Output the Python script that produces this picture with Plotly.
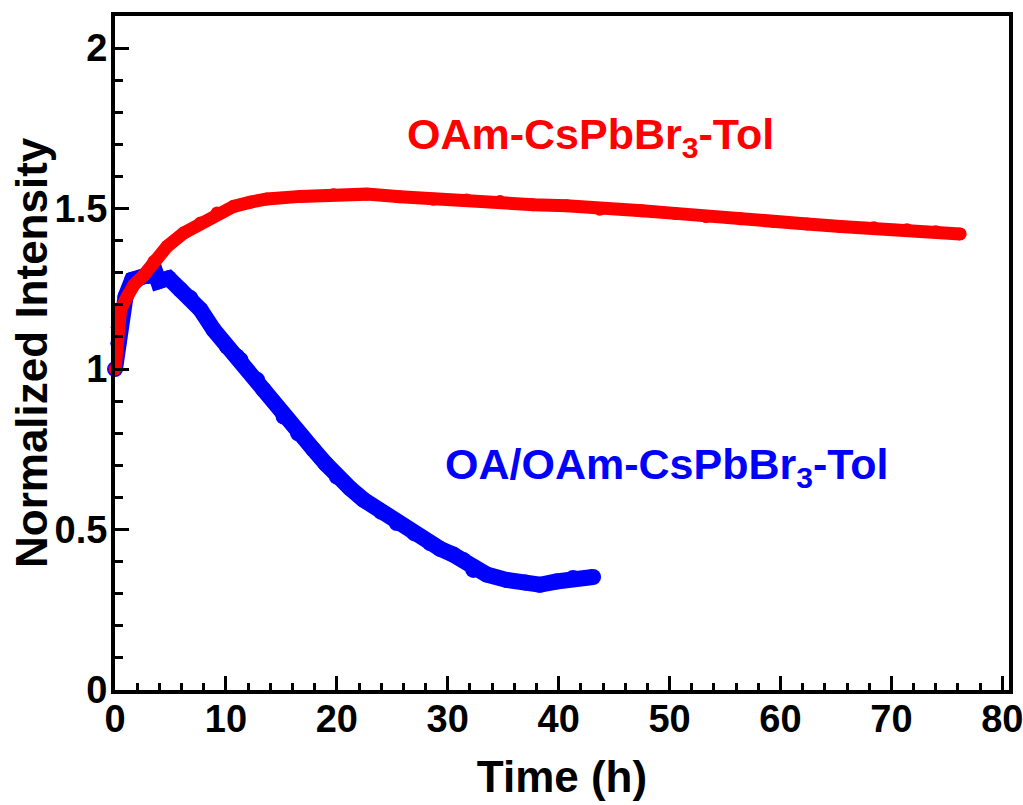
import plotly.graph_objects as go

# Data
red_time = [0, 0.2, 0.5, 1.1, 1.7, 2.6, 3.5, 4.7, 6.2, 7.7, 9.2, 10.7, 12.2, 13.7,
            16.7, 19.7, 22.7, 25.7, 28.7, 31.7, 34.7, 37.7, 40.7, 43.7, 47.5, 50.5,
            53.3, 56.4, 59.4, 62.4, 65.4, 68.4, 71.4, 74.0, 76.2]
red_int = [1.00, 1.13, 1.185, 1.226, 1.262, 1.293, 1.335, 1.382, 1.424, 1.455, 1.486,
           1.507, 1.52, 1.53, 1.538, 1.543, 1.545, 1.537, 1.529, 1.527, 1.522, 1.512,
           1.509, 1.498, 1.493, 1.485, 1.475, 1.468, 1.46, 1.452, 1.444, 1.44, 1.434,
           1.428, 1.421]

blue_time = [0, 0.3, 0.5, 0.95, 1.55, 2.3, 3.0, 3.65, 3.9, 4.85, 5.9, 6.8, 7.7, 8.9,
             10.1, 11.0, 11.3, 12.8, 13.4, 15.2, 16.5, 17.9, 19.0, 20.0, 21.2, 22.4,
             24.0, 25.4, 27.0, 28.4, 29.3, 30.5, 31.4, 32.3, 33.5, 35.3, 37.0, 38.3,
             39.8, 41.3, 43.1]
blue_int = [1.00, 1.08, 1.14, 1.226, 1.278, 1.285, 1.29, 1.30, 1.273, 1.283, 1.247,
            1.221, 1.185, 1.122, 1.07, 1.039, 1.029, 0.967, 0.935, 0.852, 0.80, 0.749,
            0.705, 0.665, 0.628, 0.593, 0.555, 0.52, 0.488, 0.458, 0.44, 0.422, 0.405,
            0.374, 0.36, 0.343, 0.335, 0.328, 0.338, 0.349, 0.352]

x_ticks = [0, 10, 20, 30, 40, 50, 60, 70, 80]
y_ticks = [0, 0.5, 1, 1.5, 2]

FONT = "Liberation Sans, Arial, sans-serif"

fig = go.Figure()
fig.add_trace(go.Scatter(x=blue_time, y=blue_int, mode="lines+markers",
                         line=dict(color="#0000ff", width=16),
                         marker=dict(color="#0000ff", size=16),
                         cliponaxis=False, showlegend=False))
fig.add_trace(go.Scatter(x=red_time, y=red_int, mode="lines+markers",
                         line=dict(color="#ff0000", width=13),
                         marker=dict(color="#ff0000", size=13),
                         cliponaxis=False, showlegend=False))

axis_common = dict(showline=True, linecolor="black", linewidth=4, mirror=True,
                   ticks="inside", tickcolor="black", tickwidth=3, ticklen=14,
                   showgrid=False, zeroline=False, ticklabeloverflow="allow",
                   tickfont=dict(family=FONT, size=38, color="black", weight="bold"))

fig.update_xaxes(range=[0, 80.6], tickvals=x_ticks,
                 minor=dict(dtick=2, ticks="inside", ticklen=7, tickwidth=3, tickcolor="black"),
                 title=dict(text="Time (h)", font=dict(family=FONT, size=44, color="black", weight="bold"),
                            standoff=24),
                 ticklabelstandoff=-8,
                 **axis_common)
fig.update_yaxes(range=[0, 2.1], tickvals=y_ticks,
                 minor=dict(dtick=0.1, ticks="inside", ticklen=8, tickwidth=3, tickcolor="black"),
                 ticklabelstandoff=-4,
                 **axis_common)

fig.add_annotation(x=(31 - 115) / 894, y=0.5, xref="paper", yref="paper",
                   text="Normalized Intensity", textangle=-90, showarrow=False,
                   xanchor="center", yanchor="middle",
                   font=dict(family=FONT, size=44, color="black", weight="bold"))

fig.add_annotation(x=42.9, y=1.724, xref="x", yref="y",
                   text="OAm-CsPbBr<sub>3</sub>-Tol", showarrow=False,
                   xanchor="center", yanchor="middle",
                   font=dict(family=FONT, size=43, color="#ff0000", weight="bold"))
fig.add_annotation(x=49.8, y=0.696, xref="x", yref="y",
                   text="OA/OAm-CsPbBr<sub>3</sub>-Tol", showarrow=False,
                   xanchor="center", yanchor="middle",
                   font=dict(family=FONT, size=43, color="#0000ff", weight="bold"))

fig.update_layout(width=1023, height=805, plot_bgcolor="white", paper_bgcolor="white",
                  margin=dict(l=115, r=14, t=16, b=115, autoexpand=False))

fig.write_html("out.html")
